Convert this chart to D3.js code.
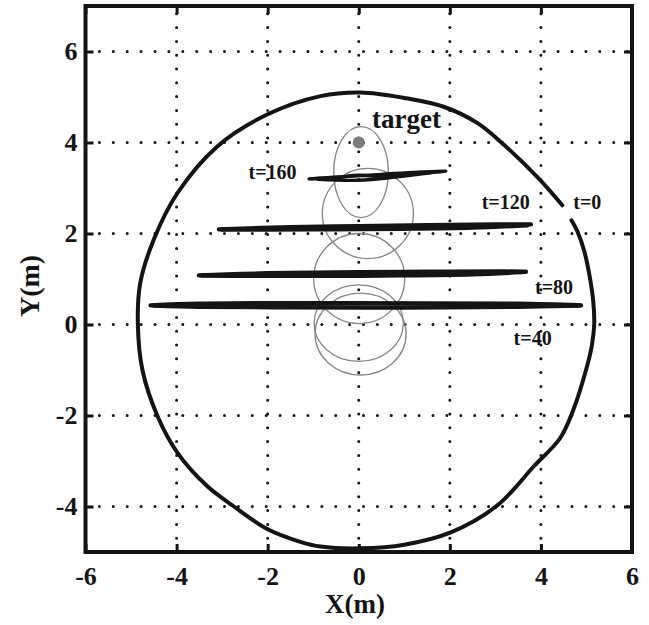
<!DOCTYPE html>
<html>
<head>
<meta charset="UTF-8">
<title>trajectory</title>
<script src="https://cdn.jsdelivr.net/npm/d3@7/dist/d3.min.js"></script>
<style>
body { margin: 0; background: #fff; }
text { font-family: "Liberation Serif", "Times New Roman", serif; font-weight: bold; fill: #141414; }
</style>
</head>
<body>
<script>
// tick values
var xTicks = [-6, -4, -2, 0, 2, 4, 6];
var yTicks = [-4, -2, 0, 2, 4, 6];

// outer path, read from t=0 going clockwise
var track = [
  [4.67, 2.29], [4.80, 2.05], [4.95, 1.62], [5.07, 1.06], [5.15, 0.5], [5.17, 0.0],
  [5.12, -0.45], [5.01, -0.93], [4.71, -1.88], [4.42, -2.5], [3.85, -3.11], [3.05, -3.97],
  [2.02, -4.57], [1.0, -4.84], [0.04, -4.92], [-0.84, -4.88], [-1.3, -4.77], [-2.0, -4.5],
  [-2.74, -4.0], [-3.33, -3.55], [-3.98, -2.82], [-4.42, -2.01], [-4.75, -1.0], [-4.85, 0.0],
  [-4.8, 0.9], [-4.5, 1.87], [-3.98, 2.89], [-3.1, 3.92], [-2.0, 4.62], [-0.84, 5.02],
  [0.04, 5.1], [1.0, 4.98], [1.88, 4.78], [2.6, 4.43], [3.2, 3.94], [3.98, 3.18],
  [4.47, 2.62]
];

// thick sweeps, each one made of a few strands
var sweep40 = [
  [[-4.57, 0.42], [-3.5, 0.455], [-1, 0.47], [1.5, 0.465], [3.5, 0.455], [4.88, 0.42]],
  [[4.85, 0.415], [3.5, 0.39], [1, 0.375], [-1.5, 0.378], [-3.5, 0.39], [-4.5, 0.415]]
];
var sweep80 = [
  [[-3.51, 1.08], [-2, 1.125], [0, 1.15], [1.5, 1.16], [3, 1.165], [3.67, 1.16]],
  [[3.6, 1.15], [2.5, 1.105], [1, 1.08], [-1, 1.068], [-2.5, 1.07], [-3.45, 1.078]]
];
var sweep120 = [
  [[-3.07, 2.09], [-1.5, 2.14], [0, 2.16], [1.5, 2.18], [3, 2.2], [3.78, 2.2]],
  [[3.7, 2.18], [2.5, 2.13], [1, 2.105], [-0.5, 2.095], [-2, 2.085], [-3.0, 2.085]]
];
var sweep160 = [
  [[-1.09, 3.2], [-0.3, 3.25], [0.5, 3.3], [1.3, 3.35], [1.91, 3.37]],
  [[1.85, 3.36], [1.2, 3.31], [0.6, 3.25], [0, 3.28], [-0.5, 3.23], [-1.05, 3.2]],
  [[-0.9, 3.19], [0, 3.17], [0.8, 3.24], [1.6, 3.34]]
];

// gray ellipses: [cx, cy, rx, ry]
var ellipses = [
  [0.05, 3.35, 0.6, 1.0],
  [0.2, 2.44, 1.0, 0.99],
  [0.01, 1.01, 1.0, 0.99],
  [0.0, 0.03, 0.98, 0.84],
  [0.04, -0.21, 1.0, 0.9]
];

var target = [0.0, 4.0];

// annotations: [text, x, y]
var notes = [
  ["t=0", 4.71, 2.53],
  ["t=40", 3.40, -0.45],
  ["t=80", 3.87, 0.67],
  ["t=120", 2.70, 2.53],
  ["t=160", -2.42, 3.19]
];

var margin = { top: 6, left: 85.5 };
var size = { width: 546.5, height: 546 };

var svg = d3.select("body").append("svg")
  .attr("width", 649)
  .attr("height", 625);

var g = svg.append("g")
  .attr("transform", "translate(" + margin.left + "," + margin.top + ")");

var x = d3.scaleLinear().domain([-6, 6]).range([0, size.width]);
var y = d3.scaleLinear().domain([-5, 7]).range([size.height, 0]);

var ink = "#141414";

// dotted grid
g.selectAll(".hgrid")
  .data(yTicks)
  .enter().append("line")
  .attr("x1", 0).attr("x2", size.width)
  .attr("y1", function(d) { return y(d); })
  .attr("y2", function(d) { return y(d); })
  .attr("stroke", ink).attr("stroke-width", 3)
  .attr("stroke-linecap", "round")
  .attr("stroke-dasharray", "0 13.9");

g.selectAll(".vgrid")
  .data(xTicks.slice(1, -1))
  .enter().append("line")
  .attr("x1", function(d) { return x(d); })
  .attr("x2", function(d) { return x(d); })
  .attr("y1", size.height).attr("y2", 0)
  .attr("stroke", ink).attr("stroke-width", 3)
  .attr("stroke-linecap", "round")
  .attr("stroke-dasharray", "0 13.8");

// ellipses
g.selectAll(".ell")
  .data(ellipses)
  .enter().append("ellipse")
  .attr("cx", function(d) { return x(d[0]); })
  .attr("cy", function(d) { return y(d[1]); })
  .attr("rx", function(d) { return x(d[0] + d[2]) - x(d[0]); })
  .attr("ry", function(d) { return y(d[1] - d[3]) - y(d[1]); })
  .attr("fill", "none")
  .attr("stroke", "#858585")
  .attr("stroke-width", 1.3);

var line = d3.line()
  .x(function(d) { return x(d[0]); })
  .y(function(d) { return y(d[1]); })
  .curve(d3.curveCatmullRom.alpha(0.5));

// sweeps
[[sweep40, 4.4], [sweep80, 4.4], [sweep120, 4.4], [sweep160, 3.4]].forEach(function(s) {
  g.append("g").selectAll("path")
    .data(s[0])
    .enter().append("path")
    .attr("d", line)
    .attr("fill", "none")
    .attr("stroke", ink)
    .attr("stroke-width", s[1])
    .attr("stroke-linecap", "round")
    .attr("stroke-linejoin", "round");
});

// outer path
g.append("path")
  .datum(track)
  .attr("d", line)
  .attr("fill", "none")
  .attr("stroke", ink)
  .attr("stroke-width", 4)
  .attr("stroke-linecap", "round");

// target
g.append("circle")
  .attr("cx", x(target[0]))
  .attr("cy", y(target[1]))
  .attr("r", 6)
  .attr("fill", "#7c7c7c");

g.append("text")
  .attr("x", x(0.29))
  .attr("y", y(4.31))
  .style("font-size", "27px")
  .text("target");

g.selectAll(".note")
  .data(notes)
  .enter().append("text")
  .attr("x", function(d) { return x(d[1]); })
  .attr("y", function(d) { return y(d[2]); })
  .style("font-size", "20px")
  .text(function(d) { return d[0]; });

// axes with inward ticks
function styleAxis(sel) {
  sel.select(".domain").remove();
  sel.selectAll(".tick line").attr("stroke", ink).attr("stroke-width", 3);
  sel.selectAll(".tick text")
    .style("font-size", "26px")
    .style("font-family", "'Liberation Serif', serif")
    .style("font-weight", "bold")
    .attr("fill", ink);
}

var plain = function(d) { return String(d); };

g.append("g")
  .attr("transform", "translate(0," + size.height + ")")
  .call(d3.axisBottom(x).tickValues(xTicks).tickFormat(plain).tickSizeInner(-8).tickSizeOuter(0).tickPadding(15))
  .call(styleAxis);

g.append("g")
  .call(d3.axisLeft(y).tickValues(yTicks).tickFormat(plain).tickSizeInner(-8).tickSizeOuter(0).tickPadding(8))
  .call(styleAxis);

g.append("g")
  .call(d3.axisTop(x).tickValues(xTicks).tickSizeInner(-8).tickSizeOuter(0).tickFormat(""))
  .call(styleAxis);

g.append("g")
  .attr("transform", "translate(" + size.width + ",0)")
  .call(d3.axisRight(y).tickValues(yTicks).tickSizeInner(-8).tickSizeOuter(0).tickFormat(""))
  .call(styleAxis);

// frame
g.append("rect")
  .attr("width", size.width)
  .attr("height", size.height)
  .attr("fill", "none")
  .attr("stroke", ink)
  .attr("stroke-width", 4);

// axis titles
svg.append("text")
  .attr("x", 355)
  .attr("y", 613)
  .attr("text-anchor", "middle")
  .style("font-size", "27px")
  .text("X(m)");

svg.append("text")
  .attr("transform", "translate(39,286) rotate(-90)")
  .attr("text-anchor", "middle")
  .style("font-size", "28px")
  .text("Y(m)");
</script>
</body>
</html>
